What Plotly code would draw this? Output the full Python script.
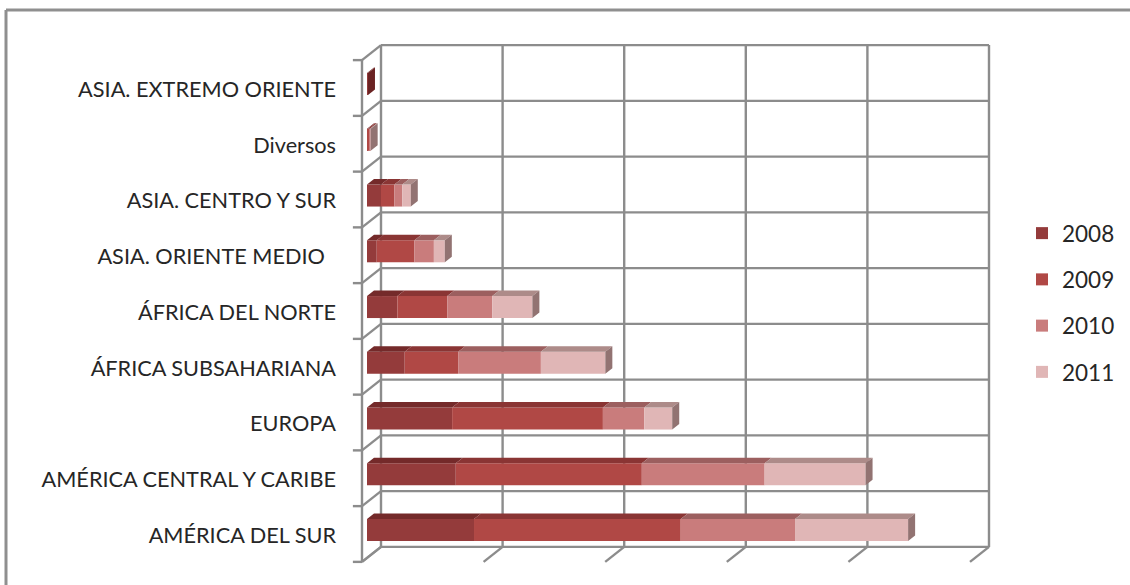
import plotly.graph_objects as go

categories = ["AMÉRICA DEL SUR", "AMÉRICA CENTRAL Y CARIBE", "EUROPA", "ÁFRICA SUBSAHARIANA",
              "ÁFRICA DEL NORTE", "ASIA. ORIENTE MEDIO\u00a0\u00a0", "ASIA. CENTRO Y SUR", "Diversos",
              "ASIA. EXTREMO ORIENTE"]
y2008 = [88, 73, 70, 31, 25, 8, 11.5, 0.8, 0.8]
y2009 = [170, 153, 124, 44, 41, 31, 11, 1.5, 0]
y2010 = [94, 101, 34, 68, 37, 16, 6.5, 0.3, 0]
y2011 = [93, 83, 23, 53, 33, 9, 7, 0.4, 0]
years = ["2008", "2009", "2010", "2011"]
series = [y2008, y2009, y2010, y2011]
front_colors = ["#943b3b", "#b04845", "#c97c7c", "#e0b6b6"]
top_colors = ["#742a2a", "#8a3534", "#9c5f5f", "#ad8b89"]
side_colors = ["#6b2323", "#7d3030", "#8a5555", "#927372"]

# pixel geometry of the pseudo-3D projection
W, H = 1130, 585
PL = 345
PX = 1.216          # px per value unit
PY = 55.75          # px per category row
X0, Y0 = 362, 534   # px of value 0 / row 0 on the front plane
DX, DY = 19, 15     # depth offset front plane -> back wall
D_F, D_B = 5 / 19, 12 / 19
BAR_H = 22 / PY
GRID = [0, 100, 200, 300, 400, 500]
GRID_C = "#8c8c8c"


def px(v, d=0.0):
    return v + d * DX / PX


def py(r, d=0.0):
    return r + d * DY / PY


shapes = []


def line(x0, y0, x1, y1):
    shapes.append(dict(type="line", x0=x0, y0=y0, x1=x1, y1=y1, layer="below",
                       line=dict(color=GRID_C, width=2.4)))


n = len(categories)
lo, hi = -0.5, n - 0.5
for k in range(n + 1):
    r = lo + k
    line(px(0, 1), py(r, 1), px(GRID[-1], 1), py(r, 1))
    line(px(0, 0), py(r, 0), px(0, 1), py(r, 1))
    line(px(-7.5, 0), py(r, 0), px(0, 0), py(r, 0))
for g in GRID:
    line(px(g, 1), py(lo, 1), px(g, 1), py(hi, 1))
    line(px(g, 0), py(lo, 0), px(g, 1), py(lo, 1))
line(px(0, 0), py(lo, 0), px(0, 0), py(hi, 0))

# outer frame (left and top only)
shapes.append(dict(type="line", xref="paper", yref="paper", x0=(6 - PL) / (W - PL), x1=1,
                   y0=(H - 10) / H, y1=(H - 10) / H, line=dict(color="#8f8f8f", width=3)))
shapes.append(dict(type="line", xref="paper", yref="paper", x0=(6 - PL) / (W - PL), x1=(6 - PL) / (W - PL),
                   y0=0, y1=(H - 10) / H, line=dict(color="#8f8f8f", width=3)))

fig = go.Figure()
cum = [0.0] * n
for name, vals, fc in zip(years, series, front_colors):
    fig.add_trace(go.Bar(
        name=name, orientation="h", legendgroup=name,
        y=[py(i, D_F) for i in range(n)], x=vals,
        base=[px(c, D_F) for c in cum], width=BAR_H,
        marker=dict(color=fc, line=dict(width=0)), hoverinfo="skip"))
    cum = [c + v for c, v in zip(cum, vals)]

cum = [0.0] * n
for j, (vals, tc, sc) in enumerate(zip(series, top_colors, side_colors)):
    tx, ty, sx, sy = [], [], [], []
    for i, v in enumerate(vals):
        a, b = cum[i], cum[i] + v
        top, bot = i + BAR_H / 2, i - BAR_H / 2
        if v > 0:
            tx += [px(a, D_F), px(b, D_F), px(b, D_B), px(a, D_B), px(a, D_F), None]
            ty += [py(top, D_F), py(top, D_F), py(top, D_B), py(top, D_B), py(top, D_F), None]
            if all(s[i] == 0 for s in series[j + 1:]):
                sx += [px(b, D_F), px(b, D_B), px(b, D_B), px(b, D_F), px(b, D_F), None]
                sy += [py(top, D_F), py(top, D_B), py(bot, D_B), py(bot, D_F), py(top, D_F), None]
    for xs, ys, col in ((tx, ty, tc), (sx, sy, sc)):
        if xs:
            fig.add_trace(go.Scatter(x=xs, y=ys, mode="lines", fill="toself", fillcolor=col,
                                     line=dict(width=0, color=col), showlegend=False, hoverinfo="skip"))
    cum = [c + v for c, v in zip(cum, vals)]

fig.update_layout(
    width=W, height=H, autosize=False,
    margin=dict(l=PL, r=0, t=0, b=0, autoexpand=False),
    paper_bgcolor="white", plot_bgcolor="white",
    barmode="overlay", shapes=shapes,
    font=dict(family="Lato, 'Open Sans', sans-serif", size=21.7, color="#262626"),
    legend=dict(x=(1022 - PL) / (W - PL), xanchor="left", y=(H - 212) / H, yanchor="top",
                traceorder="grouped", tracegroupgap=14, bgcolor="rgba(0,0,0,0)",
                font=dict(size=22.5, color="#262626")),
    xaxis=dict(range=[(PL - X0) / PX, (W - X0) / PX], visible=False, fixedrange=True),
    yaxis=dict(range=[(Y0 - H) / PY, Y0 / PY], tickmode="array", tickvals=[i - 0.025 for i in range(n)],
               ticktext=categories, showgrid=False, zeroline=False, showline=False,
               ticks="", ticklabelposition="outside", fixedrange=True, automargin=False,
               ticklabelstandoff=8),
)
fig.write_html("out.html", config={"displayModeBar": False},
               post_script="document.body.style.margin='0';document.documentElement.style.overflow='hidden';")
